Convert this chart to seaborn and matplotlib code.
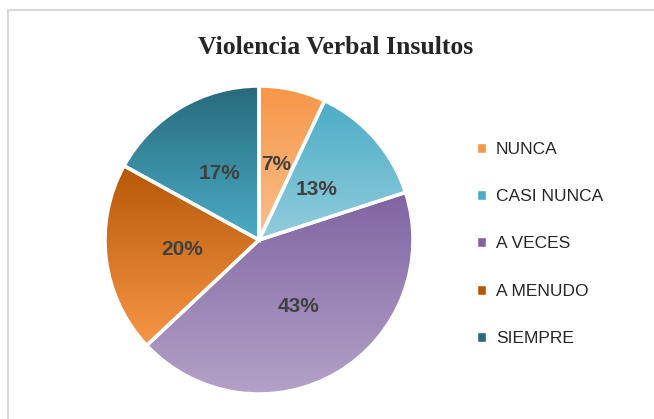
import matplotlib.pyplot as plt
import seaborn as sns
import numpy as np
from matplotlib.colors import LinearSegmentedColormap
from matplotlib.lines import Line2D

# Datos del gráfico
categorias = ['NUNCA', 'CASI NUNCA', 'A VECES', 'A MENUDO', 'SIEMPRE']
porcentajes = [7, 13, 43, 20, 17]
# colores degradados (arriba, abajo) por sector
colores_top = ['#F79646', '#4BACC6', '#8064A2', '#B65708', '#276A7C']
colores_bot = ['#FAC090', '#93CDDD', '#B3A2C7', '#F79646', '#4BACC6']

sns.set_theme(style='white')
plt.rcParams['font.family'] = ['Liberation Sans', 'DejaVu Sans']

fig = plt.figure(figsize=(6.54, 4.19), dpi=100)
W, H = 654, 419
cx, cy, r = 259, 240, 154
m = 1.03
ax = fig.add_axes([(cx - r * m) / W, (H - cy - r * m) / H, 2 * r * m / W, 2 * r * m / H])

wedges, textos, autotextos = ax.pie(
    porcentajes, colors=colores_top, startangle=90, counterclock=False,
    autopct='%1.0f%%', pctdistance=0.5, radius=1,
    wedgeprops=dict(edgecolor='white', linewidth=2.5),
    textprops=dict(color='#404040', fontsize=15, fontweight='bold'))

# Relleno degradado vertical dentro de cada sector
grad = np.linspace(0, 1, 256).reshape(-1, 1)
for w, ct, cb in zip(wedges, colores_top, colores_bot):
    bb = w.get_path().get_extents(w.get_patch_transform())
    cmap = LinearSegmentedColormap.from_list('g', [ct, cb])
    im = ax.imshow(grad, cmap=cmap, aspect='auto', origin='upper',
                   extent=[bb.x0, bb.x1, bb.y0, bb.y1], zorder=w.get_zorder() - 0.1)
    im.set_clip_path(w)
    w.set_facecolor('none')

for t in autotextos:
    t.set_zorder(5)

ax.set_xlim(-m, m)
ax.set_ylim(-m, m)
ax.set_aspect('equal')
ax.axis('off')

# Título
fig.text(336 / W, 1 - 47 / H, 'Violencia Verbal Insultos', ha='center', va='center',
         fontsize=18.5, fontweight='bold', family=['Liberation Serif', 'DejaVu Serif'])

# Leyenda
handles = [plt.Rectangle((0, 0), 1, 1, facecolor=c) for c in colores_top]
fig.legend(handles, categorias, loc='center left', bbox_to_anchor=(470 / W, 1 - 244 / H),
           frameon=False, fontsize=12.5, handlelength=0.5, handleheight=0.5,
           handletextpad=0.6, labelspacing=1.86, borderaxespad=0)

# Borde del área del gráfico
fig.add_artist(Line2D([7.5 / W, 1], [1 - 10.5 / H] * 2, color='#D9D9D9', lw=1.5))
fig.add_artist(Line2D([7.5 / W] * 2, [0, 1 - 10.5 / H], color='#D9D9D9', lw=1.5))

plt.savefig('out.png', dpi=100)
